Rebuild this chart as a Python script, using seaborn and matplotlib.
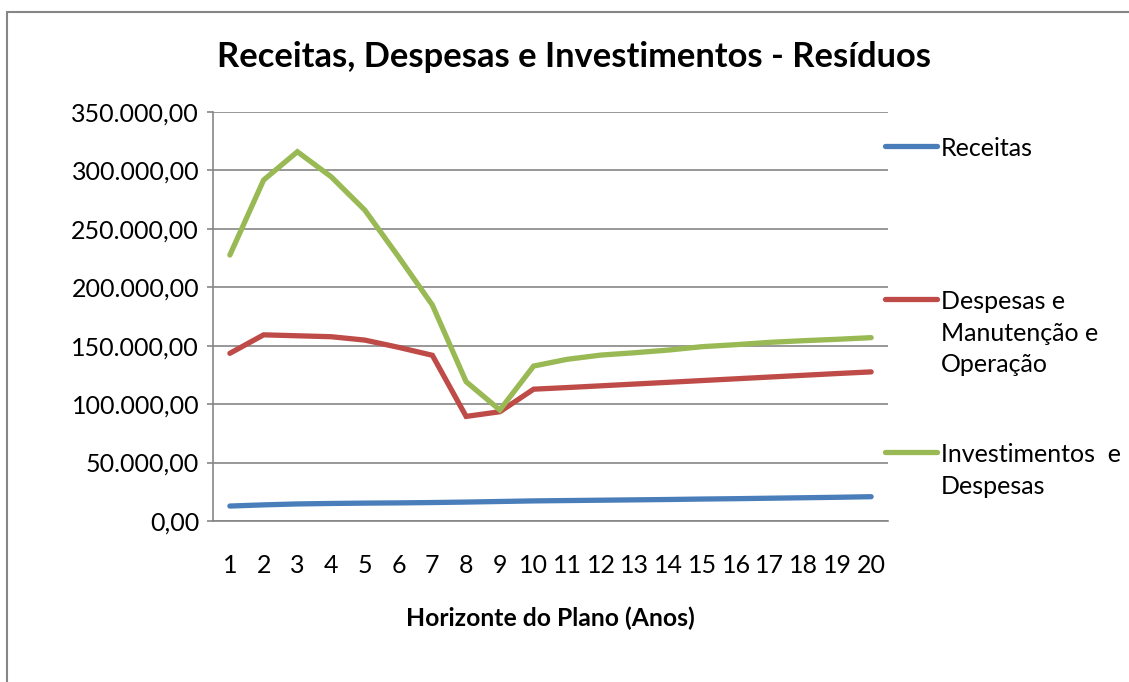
import numpy as np
import pandas as pd
import matplotlib
matplotlib.use("Agg")
import matplotlib.pyplot as plt
import seaborn as sns
from matplotlib.patches import Rectangle

# data
anos = list(range(1, 21))
receitas = [12800, 13800, 14600, 15000, 15300, 15500, 15800, 16200, 16700, 17200,
            17500, 17800, 18100, 18400, 18800, 19100, 19500, 19900, 20300, 20800]
despesas = [143500, 159300, 158500, 157700, 154800, 148600, 141800, 89500, 93500, 112800,
            114200, 115700, 117200, 118700, 120200, 121700, 123200, 124700, 126200, 127600]
investimentos = [227600, 291800, 316000, 294600, 266000, 226000, 184800, 119200, 95000, 132600,
                 138400, 142000, 144000, 146300, 149200, 150900, 152900, 154300, 155500, 156900]
series = ["Receitas", "Despesas e\nManutenção e\nOperação", "Investimentos  e\nDespesas"]
cores = ["#4A7EBB", "#BE4B48", "#98B954"]
y_ticks = list(range(0, 350001, 50000))

df = pd.DataFrame({
    "ano": anos * 3,
    "valor": receitas + despesas + investimentos,
    "serie": [series[0]] * 20 + [series[1]] * 20 + [series[2]] * 20,
})

sns.set_style("white")
plt.rcParams["font.family"] = ["Lato", "DejaVu Sans"]
plt.rcParams["text.color"] = "black"
plt.rcParams["xtick.color"] = "black"
plt.rcParams["ytick.color"] = "black"
plt.rcParams["axes.labelcolor"] = "black"

fig = plt.figure(figsize=(11.29, 6.82), dpi=100)
ax = fig.add_axes([213 / 1129, 1 - 521 / 682, 675 / 1129, 409 / 682])

sns.lineplot(data=df, x="ano", y="valor", hue="serie", hue_order=series,
             palette=cores, linewidth=3.8, ax=ax, legend=True,
             solid_capstyle="round", solid_joinstyle="miter")

grey = "#868686"
ax.set_xlim(0.5, 20.5)
ax.set_ylim(0, 350000)
ax.set_yticks(y_ticks)
ax.set_yticklabels([f"{v:,.2f}".replace(",", "X").replace(".", ",").replace("X", ".")
                    for v in y_ticks])
ax.set_xticks(anos)
ax.set_xticks(np.arange(0.5, 21, 1), minor=True)
ax.tick_params(axis="x", which="major", length=0, pad=24, labelsize=18)
ax.tick_params(axis="x", which="minor", length=4, width=1.2, color=grey, direction="out")
ax.tick_params(axis="y", which="major", length=4, width=1.2, color=grey, direction="out",
               pad=6, labelsize=18, left=True)
ax.yaxis.grid(True, color=grey, linewidth=1.2)
ax.xaxis.grid(False)
for s in ["top", "right"]:
    ax.spines[s].set_visible(False)
for s in ["left", "bottom"]:
    ax.spines[s].set_color(grey)
    ax.spines[s].set_linewidth(1.2)

ax.set_ylabel("")
ax.set_xlabel("Horizonte do Plano (Anos)", fontsize=17.8, fontweight="bold", labelpad=21)

fig.text(574 / 1129, 1 - 57 / 682, "Receitas, Despesas e Investimentos - Resíduos",
         ha="center", va="center", fontsize=24.8, fontweight="bold")

# legend: each entry gets a 3-line slot, handle aligned to first line
handles, labels = ax.get_legend_handles_labels()
padded = []
for lab in labels:
    n = lab.count("\n")
    padded.append(lab + "\n " * (2 - n))
leg = ax.legend(handles, padded, loc="upper left", bbox_to_anchor=(0.977, 0.97),
                frameon=False, fontsize=18, handlelength=2.1, handletextpad=0.15,
                borderpad=0, labelspacing=2.69)
for col in leg._legend_handle_box.get_children():
    for hp in col.get_children():
        hp.align = "top"
for t in leg.get_texts():
    t.set_linespacing(1.45)
for h in leg.get_lines():
    h.set_linewidth(3.8)

# chart area frame
fig.patches.append(Rectangle((6.5 / 1129, -0.05), 1.2, 1.05 - 11.5 / 682,
                             transform=fig.transFigure, fill=False,
                             edgecolor=grey, linewidth=1.5))

fig.savefig("out.png", dpi=100)
